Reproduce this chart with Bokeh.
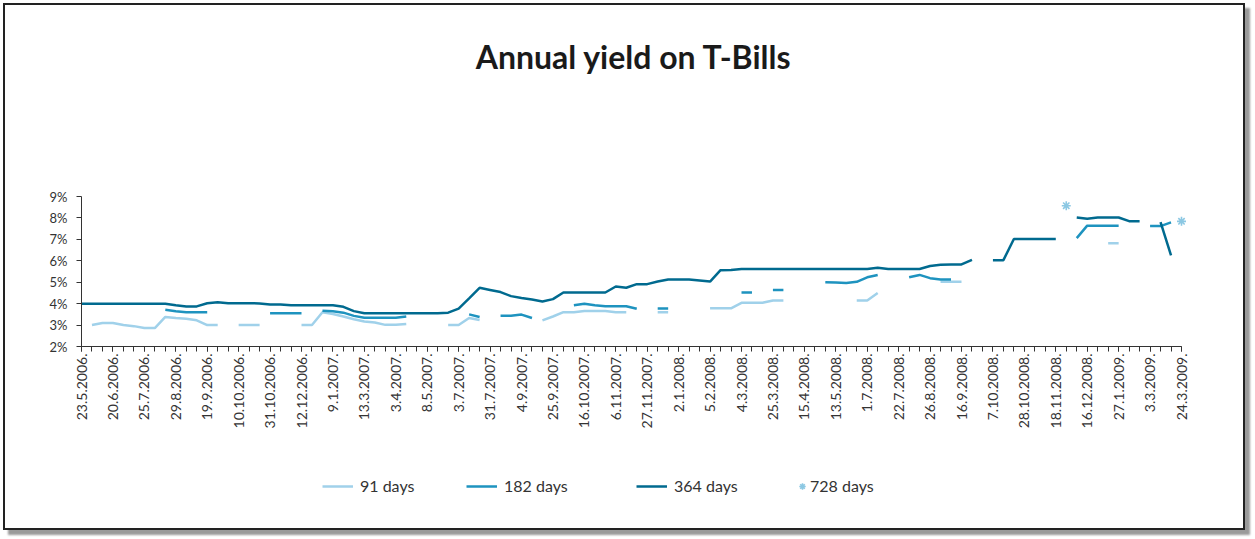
import math
import numpy as np
from bokeh.plotting import figure
from bokeh.models import (ColumnDataSource, Range1d, FixedTicker, Label, Legend, LegendItem,
                          LinearAxis)
from bokeh.embed import file_html
from bokeh.resources import INLINE

N = None

# labelled auction dates (every third category on the axis)
date_labels = [
    "23.5.2006.", "20.6.2006.", "25.7.2006.", "29.8.2006.", "19.9.2006.", "10.10.2006.",
    "31.10.2006.", "12.12.2006.", "9.1.2007.", "13.3.2007.", "3.4.2007.", "8.5.2007.",
    "3.7.2007.", "31.7.2007.", "4.9.2007.", "25.9.2007.", "16.10.2007.", "6.11.2007.",
    "27.11.2007.", "2.1.2008.", "5.2.2008.", "4.3.2008.", "25.3.2008.", "15.4.2008.",
    "13.5.2008.", "1.7.2008.", "22.7.2008.", "26.8.2008.", "16.9.2008.", "7.10.2008.",
    "28.10.2008.", "18.11.2008.", "16.12.2008.", "27.1.2009.", "3.3.2009.", "24.3.2009.",
]
label_step = 3

y_ticks = [2, 3, 4, 5, 6, 7, 8, 9]
y_tick_labels = ["2%", "3%", "4%", "5%", "6%", "7%", "8%", "9%"]

# yields in %, one value per auction (None = no auction)
d91 = [N, 3.00, 3.10, 3.10, 3.00, 2.95, 2.86, 2.86, 3.38, 3.33, 3.29, 3.22, 3.00, 3.00,
       N, 3.00, 3.00, 3.00, N, N, N,
       3.00, 3.00, 3.60, 3.52, 3.40, 3.27, 3.17, 3.12, 3.01, 3.01, 3.05, N, N, N,
       3.00, 3.00, 3.33, 3.24, N, N, N, N, N,
       3.22, 3.40, 3.60, 3.60, 3.66, 3.66, 3.66, 3.60, 3.60, N, N, 3.60, 3.60, N, N, N,
       3.78, 3.78, 3.78, 4.04, 4.04, 4.04, 4.15, 4.15, N, N, N, N, N, N,
       4.15, 4.15, 4.50, N, N, N, N, N, 5.02, 5.02, 5.02,
       N, N, N, N, N, N, N, N, N, N, N, N, N, 6.82, 6.82, N, N, N, N, N, N]

d182 = [N, N, N, N, N, N, N, N, 3.71, 3.65, 3.60, 3.60, 3.60, N, N, N, N, N,
        3.55, 3.55, 3.55, 3.55, N, 3.67, 3.64, 3.58, 3.43, 3.34, 3.34, 3.34, 3.34, 3.40,
        N, N, N, N, N, 3.50, 3.38, N, 3.43, 3.43, 3.49, 3.33, N, N, N,
        3.93, 4.00, 3.93, 3.88, 3.88, 3.88, 3.76, N, 3.77, 3.77, N, N, N, N, N, N,
        4.52, 4.52, N, 4.64, 4.64, N, N, N, 5.00, 4.99, 4.96, 5.02, 5.23, 5.34, N, N,
        5.23, 5.34, 5.19, 5.13, 5.13, N, N, N, N, N, N, N, N, N, N, N,
        7.06, 7.64, 7.64, 7.64, 7.64, N, N, 7.62, 7.62, 7.79, N]

d364 = [4.00, 4.00, 4.00, 4.00, 4.00, 4.00, 4.00, 4.00, 4.00,
        3.93, 3.87, 3.87, 4.02, 4.07, 4.02, 4.02, 4.02, 4.01, 3.96,
        3.96, 3.92, 3.92, 3.92, 3.92, 3.92, 3.85, 3.65, 3.55, 3.55,
        3.55, 3.55, 3.55, 3.55, 3.55, 3.55, 3.58, 3.77, 4.25, 4.74,
        4.64, 4.54, 4.35, 4.26, 4.19, 4.10, 4.21, 4.52, 4.52, 4.52,
        4.52, 4.52, 4.80, 4.74, 4.91, 4.91, 5.03, 5.13, 5.13, 5.13,
        5.08, 5.03, 5.56, 5.57, 5.62, 5.62, 5.62, 5.62, 5.62, 5.62,
        5.62, 5.62, 5.62, 5.62, 5.62, 5.62, 5.62, 5.67, 5.62, 5.62,
        5.62, 5.62, 5.76, 5.82, 5.83, 5.83, 6.04, N, 6.03, 6.03,
        7.02, 7.02, 7.02, 7.02, 7.02, N, 8.02, 7.96, 8.02, 8.02,
        8.02, 7.85, 7.85, N, 7.80, 6.25, N]

d728 = [N] * 94 + [8.57] + [N] * 10 + [7.84]

series_names = ["91 days", "182 days", "364 days", "728 days"]
colors = ["#a0d1ea", "#1e93bf", "#006a8f", "#8cc8e3"]


def arr(a):
    return np.array([np.nan if v is None else v for v in a], dtype=float)


x = list(range(len(d364)))
src = ColumnDataSource(dict(x=x, d91=arr(d91), d182=arr(d182), d364=arr(d364), d728=arr(d728)))

# ---- layout (canvas pixels) ----
CANVAS_W, CANVAS_H = 1242, 527
AX_L, AX_R, AX_T, AX_B = 76, 1176, 191, 341   # where the axes' ends sit
n_last = len(x) - 1
px_x = (AX_R - AX_L) / n_last
px_y = (AX_B - AX_T) / (y_ticks[-1] - y_ticks[0])
x_range = Range1d(0 - AX_L / px_x, n_last + (CANVAS_W - AX_R) / px_x)
y_range = Range1d(y_ticks[0] - (CANVAS_H - AX_B) / px_y, y_ticks[-1] + AX_T / px_y)

p = figure(width=CANVAS_W, height=CANVAS_H, output_backend="svg", toolbar_location=None,
           x_range=x_range, y_range=y_range, x_axis_type=None, y_axis_type=None,
           min_border=0, background_fill_color="white", border_fill_color="white")
p.title.visible = False
p.outline_line_color = None
p.grid.visible = False
p.styles = {"margin": "3px 0 0 3px", "border": "2px solid #222",
            "box-shadow": "5px 5px 2px #9a9a9a"}

axis_col = "#333333"
font = "Lato"

xa = LinearAxis(fixed_location=y_ticks[0], bounds=(0, n_last))
xa.ticker = FixedTicker(ticks=[i * label_step for i in range(len(date_labels))], minor_ticks=x)
xa.major_label_overrides = {i * label_step: lbl for i, lbl in enumerate(date_labels)}
xa.major_label_orientation = math.pi / 2
xa.major_tick_in = 0
xa.major_tick_out = 5
xa.minor_tick_in = 0
xa.minor_tick_out = 5
xa.axis_line_color = axis_col
xa.major_tick_line_color = axis_col
xa.minor_tick_line_color = axis_col
xa.major_label_standoff = 2
xa.major_label_text_font = font
xa.major_label_text_font_size = "14px"
xa.major_label_text_color = axis_col
p.add_layout(xa, "below")

ya = LinearAxis(fixed_location=0, bounds=(y_ticks[0], y_ticks[-1]))
ya.ticker = FixedTicker(ticks=y_ticks, minor_ticks=[])
ya.major_label_overrides = {t: l for t, l in zip(y_ticks, y_tick_labels)}
ya.major_tick_in = 0
ya.major_tick_out = 5
ya.axis_line_color = axis_col
ya.major_tick_line_color = axis_col
ya.major_label_standoff = 9
ya.major_label_text_font = font
ya.major_label_text_font_size = "13px"
ya.major_label_text_color = axis_col
p.add_layout(ya, "left")

r91 = p.line("x", "d91", source=src, line_color=colors[0], line_width=2.5)
r182 = p.line("x", "d182", source=src, line_color=colors[1], line_width=2.5)
r364 = p.line("x", "d364", source=src, line_color=colors[2], line_width=2.5)
r728 = p.scatter("x", "d728", source=src, marker="asterisk", size=9,
                 line_color=colors[3], line_width=1.6)

# (renderer, label, left, bottom, glyph w, glyph h, standoff)
legend_specs = [
    (r91, series_names[0], 317, 37, 31, 16, 7),
    (r182, series_names[1], 461, 37, 31, 16, 7),
    (r364, series_names[2], 631, 37, 31, 16, 7),
    (r728, series_names[3], 789, 37, 16, 16, 0),
]
for rend, name, lx, lb, gw, gh, st in legend_specs:
    lg = Legend(items=[LegendItem(label=name, renderers=[rend])], location=(lx, lb),
                orientation="horizontal", padding=0, margin=0, spacing=0,
                border_line_color=None, background_fill_alpha=0,
                glyph_width=gw, glyph_height=gh, label_height=16, label_standoff=st,
                label_text_font=font, label_text_font_size="16px", label_text_color=axis_col)
    p.add_layout(lg, "center")

title = Label(x=628.5, y=476, x_units="screen", y_units="screen",
              text="Annual yield on T-Bills",
              text_align="center", text_baseline="middle",
              text_font=font, text_font_style="bold", text_font_size="32px",
              text_color="#1a1a1a")
p.add_layout(title)

open("out.html", "w").write(file_html(p, INLINE))
